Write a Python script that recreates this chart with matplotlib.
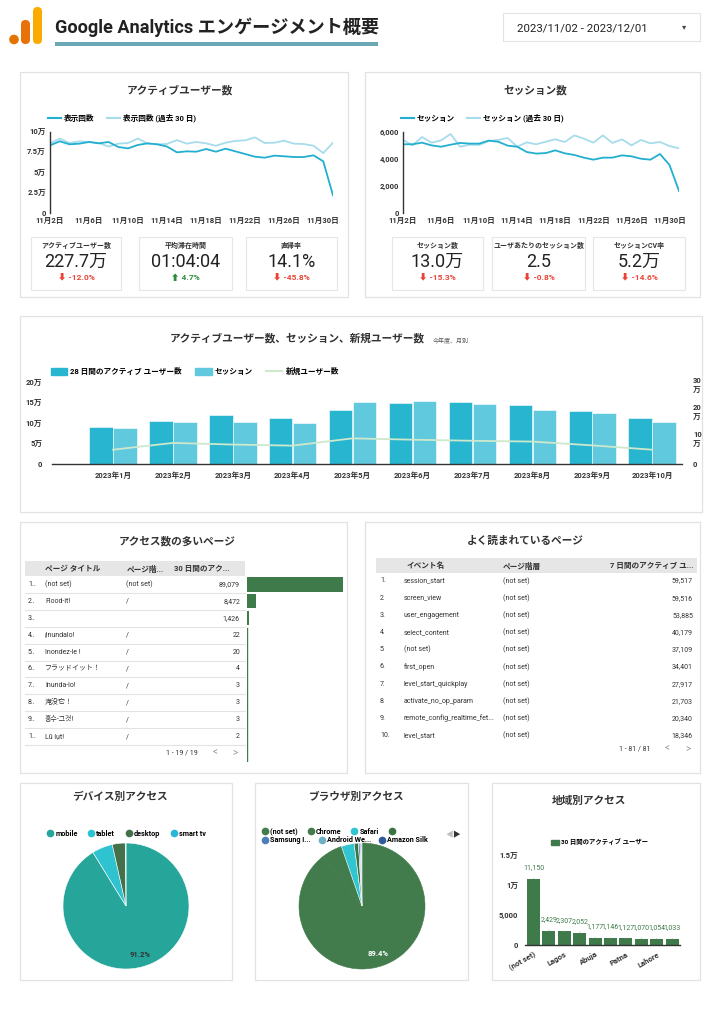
import matplotlib
matplotlib.use('Agg')
import matplotlib.pyplot as plt
from matplotlib.patches import Rectangle, FancyBboxPatch, Patch
from matplotlib.lines import Line2D
import numpy as np

plt.rcParams['font.family'] = ['Roboto', 'Noto Sans CJK JP', 'DejaVu Sans']

# ---------------- data ----------------
day_labels = ['11月2日', '11月3日', '11月4日', '11月5日', '11月6日', '11月7日', '11月8日', '11月9日',
              '11月10日', '11月11日', '11月12日', '11月13日', '11月14日', '11月15日', '11月16日',
              '11月17日', '11月18日', '11月19日', '11月20日', '11月21日', '11月22日', '11月23日',
              '11月24日', '11月25日', '11月26日', '11月27日', '11月28日', '11月29日', '11月30日', '12月1日']
active_cur = [8.35, 8.85, 8.48, 8.56, 8.77, 8.60, 8.77, 8.15, 7.98, 8.40, 8.60, 8.48, 8.20, 7.49, 7.61,
              7.57, 7.90, 7.57, 7.94, 7.61, 7.28, 6.95, 6.83, 7.08, 7.00, 6.91, 6.91, 7.12, 6.38, 2.18]
active_prev = [8.60, 9.18, 8.64, 8.85, 8.77, 8.64, 8.20, 8.56, 8.64, 9.20, 8.56, 8.48, 8.52, 9.00, 8.56,
               8.77, 8.60, 8.30, 8.68, 8.90, 8.97, 9.34, 8.64, 8.68, 8.93, 8.56, 8.52, 8.30, 7.40, 8.68]
sess_cur = [5090, 5090, 5210, 5010, 4910, 5060, 5190, 5140, 5140, 5360, 5280, 4990, 4910, 4520, 4400,
            4440, 4640, 4420, 4300, 4100, 3950, 4100, 4100, 4270, 4200, 4020, 3950, 4370, 3560, 1630]
sess_prev = [5410, 5010, 5630, 5210, 5380, 5850, 4910, 5060, 5040, 5330, 5410, 5560, 4910, 5230, 5090,
             5280, 5460, 5260, 5750, 5510, 5210, 5750, 5190, 5460, 5010, 5410, 5160, 5260, 4960, 4790]

kpi_left_labels = ['アクティブユーザー数', '平均滞在時間', '直帰率']
kpi_left_values = ['227.7万', '01:04:04', '14.1%']
kpi_left_deltas = [-12.0, 4.7, -45.8]
kpi_right_labels = ['セッション数', 'ユーザあたりのセッション数', 'セッションCV率']
kpi_right_values = ['13.0万', '2.5', '5.2万']
kpi_right_deltas = [-15.3, -0.8, -14.6]

months = ['2023年1月', '2023年2月', '2023年3月', '2023年4月', '2023年5月',
          '2023年6月', '2023年7月', '2023年8月', '2023年9月', '2023年10月']
active28_m = [9.05, 10.7, 12.2, 11.4, 13.25, 15.0, 15.2, 14.6, 13.1, 11.3]   # 万
sessions_m = [8.97, 10.3, 10.4, 10.1, 15.2, 15.5, 14.7, 13.4, 12.5, 10.4]    # 万
new_users_m = [5.3, 7.8, 7.2, 6.8, 9.5, 9.0, 8.6, 8.3, 6.9, 5.3]            # 万

page_titles = ['(not set)', 'Flood-it!', '', '¡Inundalo!', 'Inondez-le !', 'フラッドイット！',
               'Inunda-lo!', '淹没它！', '홍수-그것!', 'Lũ lụt!']
page_paths = ['(not set)', '/', '', '/', '/', '/', '/', '/', '/', '/']
page_users = [89079, 8472, 1426, 22, 20, 4, 3, 3, 3, 2]

event_names = ['session_start', 'screen_view', 'user_engagement', 'select_content', '(not set)',
               'first_open', 'level_start_quickplay', 'activate_no_op_param',
               'remote_config_realtime_fet...', 'level_start']
event_paths = ['(not set)'] * 10
event_users = [59517, 59516, 53885, 40179, 37109, 34401, 27917, 21703, 20340, 18346]

device_names = ['mobile', 'tablet', 'desktop', 'smart tv']
device_share = [91.2, 5.3, 3.3, 0.2]
browser_names = ['(not set)', 'Chrome', 'Safari', '', 'Samsung I...', 'Android We...', 'Amazon Silk']
browser_share = [89.4, 5.3, 3.3, 1.1, 0.4, 0.3, 0.2]

geo_labels = ['(not set)', '', 'Lagos', '', 'Abuja', '', 'Patna', '', 'Lahore', '']
geo_users = [11150, 2429, 2307, 2052, 1177, 1146, 1127, 1070, 1054, 1033]

# ---------------- colours ----------------
C_CUR = '#22afd0'
C_PREV = '#a6dcec'
C_BAR1 = '#27b5cf'
C_BAR2 = '#60c9dd'
C_NEW = '#cde8cc'
C_GREEN = '#3f7a4b'
C_TXT = '#333333'
C_RED = '#ea4335'
C_UP = '#2e8b3e'
device_colors = ['#26a69a', '#2fc3d2', '#44704a', '#2ab5d8']
browser_colors = ['#427b4c', '#427b4c', '#31c4d1', '#3a7444', '#4c7fb8', '#6eb1c4', '#2f5b9c']

W, H = 724, 1024
fig = plt.figure(figsize=(W / 100, H / 100), dpi=100)
fig.patch.set_facecolor('white')

bg = fig.add_axes([0, 0, 1, 1])
bg.set_xlim(0, W)
bg.set_ylim(H, 0)
bg.axis('off')


def axpx(x0, y0, x1, y1):
    a = fig.add_axes([x0 / W, 1 - y1 / H, (x1 - x0) / W, (y1 - y0) / H])
    a.set_facecolor('none')
    return a


def panel(x0, y0, x1, y1, ec='#e2e2e2', lw=0.9):
    bg.add_patch(Rectangle((x0, y0), x1 - x0, y1 - y0, fc='white', ec=ec, lw=lw))


def txt(x, y, s, size=6, weight='normal', color=C_TXT, ha='left', va='center', **kw):
    return bg.text(x, y, s, fontsize=size, fontweight=weight, color=color, ha=ha, va=va, **kw)


# ---------------- header ----------------
bg.add_patch(FancyBboxPatch((33, 7), 9, 37, boxstyle='round,pad=0,rounding_size=4.5',
                            fc='#f9ab00', ec='none'))
bg.add_patch(FancyBboxPatch((21, 20), 9, 24, boxstyle='round,pad=0,rounding_size=4.5',
                            fc='#e8710a', ec='none'))
bg.add_patch(plt.Circle((14, 39.5), 4.8, fc='#e37400', ec='none'))
txt(55, 27, 'Google Analytics エンゲージメント概要', size=13.1, weight='bold', color='#222222')
bg.add_patch(Rectangle((55, 42), 323, 4, fc='#6aa6b3', ec='none'))
bg.add_patch(Rectangle((503, 13), 197, 28, fc='white', ec='#e3e3e3', lw=0.8))
txt(517, 28, '2023/11/02 - 2023/12/01', size=8.2, color='#222222')
txt(684, 27, '▾', size=6, color='#444444', ha='center')

# ---------------- panels ----------------
panel(20, 72, 348, 297)
panel(365, 72, 700, 297)
panel(20, 316, 702, 512)
panel(20, 522, 347, 773)
panel(365, 522, 700, 773)
panel(20, 783, 232, 980)
panel(255, 783, 468, 980)
panel(492, 783, 700, 980)

txt(180, 90, 'アクティブユーザー数', size=7.7, weight='bold', ha='center')
txt(535, 90, 'セッション数', size=7.7, weight='bold', ha='center')
txt(297, 338, 'アクティブユーザー数、セッション、新規ユーザー数', size=7.7, weight='bold', ha='center')
txt(433, 341, '今年度、月別', size=4.3, color='#555555')
txt(177, 541, 'アクセス数の多いページ', size=7.7, weight='bold', ha='center')
txt(525, 541, 'よく読まれているページ', size=7.7, weight='bold', ha='center')
txt(120, 797, 'デバイス別アクセス', size=7.7, weight='bold', ha='center')
txt(357, 797, 'ブラウザ別アクセス', size=7.7, weight='bold', ha='center')
txt(589, 801, '地域別アクセス', size=7.7, weight='bold', ha='center')


# ---------------- line charts ----------------
def style_line_ax(ax, yticks, ylabels):
    for s in ['top', 'right', 'bottom']:
        ax.spines[s].set_visible(False)
    ax.spines['left'].set_color(C_TXT)
    ax.spines['left'].set_linewidth(1.0)
    ax.set_yticks(yticks)
    ax.set_yticklabels(ylabels)
    ax.set_xticks(range(0, 30, 4))
    ax.set_xticklabels([day_labels[i] for i in range(0, 30, 4)])
    ax.tick_params(length=0, labelsize=5.5, labelcolor=C_TXT, pad=3)
    for lab in ax.get_xticklabels() + ax.get_yticklabels():
        lab.set_fontweight('bold')


ax1 = axpx(50, 132, 333, 213)
x = np.arange(len(active_cur))
ax1.plot(x, active_prev, color=C_PREV, lw=1.3)
ax1.plot(x, active_cur, color=C_CUR, lw=1.3)
ax1.set_xlim(0, len(x) - 1)
ax1.set_ylim(0, 10)
style_line_ax(ax1, [0, 2.5, 5, 7.5, 10], ['0', '2.5万', '5万', '7.5万', '10万'])
ax1.legend([Line2D([], [], color=C_CUR, lw=1.5), Line2D([], [], color=C_PREV, lw=1.5)],
           ['表示回数', '表示回数 (過去 30 日)'], loc='center left', bbox_to_anchor=(48, 118),
           bbox_transform=bg.transData, ncol=2, frameon=False, borderpad=0, borderaxespad=0,
           handlelength=1.7, handletextpad=0.4, columnspacing=1.6,
           prop={'size': 5.5, 'weight': 'bold'})

ax2 = axpx(403, 132, 679, 213)
ax2.plot(x, sess_prev, color=C_PREV, lw=1.3)
ax2.plot(x, sess_cur, color=C_CUR, lw=1.3)
ax2.set_xlim(0, len(x) - 1)
ax2.set_ylim(0, 6000)
style_line_ax(ax2, [0, 2000, 4000, 6000], ['0', '2,000', '4,000', '6,000'])
ax2.legend([Line2D([], [], color=C_CUR, lw=1.5), Line2D([], [], color=C_PREV, lw=1.5)],
           ['セッション', 'セッション (過去 30 日)'], loc='center left', bbox_to_anchor=(401, 118),
           bbox_transform=bg.transData, ncol=2, frameon=False, borderpad=0, borderaxespad=0,
           handlelength=1.7, handletextpad=0.4, columnspacing=1.6,
           prop={'size': 5.5, 'weight': 'bold'})


# ---------------- KPI cards ----------------
def kpi(x0, x1, label, value, delta):
    bg.add_patch(Rectangle((x0, 237), x1 - x0, 53, fc='white', ec='#e6e6e6', lw=0.8))
    cx = (x0 + x1) / 2
    txt(cx, 246, label, size=5, weight='bold', ha='center')
    txt(cx, 262, value, size=13, color='#222222', ha='center')
    if delta < 0:
        txt(cx, 277, f'⬇ {delta:.1f}%', size=6, weight='bold', color=C_RED, ha='center')
    else:
        txt(cx, 277, f'⬆ {delta:.1f}%', size=6, weight='bold', color=C_UP, ha='center')


for (x0, x1), lab, val, d in zip([(31, 121), (139, 232), (246, 337)],
                                 kpi_left_labels, kpi_left_values, kpi_left_deltas):
    kpi(x0, x1, lab, val, d)
for (x0, x1), lab, val, d in zip([(392, 483), (492, 585), (593, 685)],
                                 kpi_right_labels, kpi_right_values, kpi_right_deltas):
    kpi(x0, x1, lab, val, d)

# ---------------- combo chart ----------------
axc = axpx(52, 383, 682, 464)
xm = np.arange(len(months))
axc.bar(xm - 0.2, active28_m, 0.39, color=C_BAR1, edgecolor='white', lw=0.4)
axc.bar(xm + 0.2, sessions_m, 0.39, color=C_BAR2, edgecolor='white', lw=0.4)
axc.set_xlim(-1.02, 9.5)
axc.set_ylim(0, 20)
axc.set_yticks([0, 5, 10, 15, 20])
axc.set_yticklabels(['0', '5万', '10万', '15万', '20万'])
axc.set_xticks(xm)
axc.set_xticklabels(months)
for s in ['top', 'right', 'left']:
    axc.spines[s].set_visible(False)
axc.spines['bottom'].set_color(C_TXT)
axc.spines['bottom'].set_linewidth(1.0)
axc.tick_params(length=0, labelsize=5.5, labelcolor=C_TXT)
axc.tick_params(axis='y', pad=7)
axc.tick_params(axis='x', pad=5)
axr = axc.twinx()
axr.set_facecolor('none')
axr.plot(xm, new_users_m, color=C_NEW, lw=1.3)
axr.set_ylim(0, 30)
axr.set_yticks([0, 10, 20, 30])
axr.set_yticklabels(['0', '10\n万', '20\n万', '30\n万'], linespacing=1.5)
for s in ['top', 'right', 'left', 'bottom']:
    axr.spines[s].set_visible(False)
axr.tick_params(length=0, labelsize=5.5, labelcolor=C_TXT, pad=8)
for lab in (axc.get_xticklabels() + axc.get_yticklabels() + axr.get_yticklabels()):
    lab.set_fontweight('bold')
axc.legend([Patch(color=C_BAR1), Patch(color=C_BAR2), Line2D([], [], color=C_NEW, lw=1.5)],
           ['28 日間のアクティブ ユーザー数', 'セッション', '新規ユーザー数'],
           loc='center left', bbox_to_anchor=(51, 371), bbox_transform=bg.transData, ncol=3,
           frameon=False, borderpad=0, borderaxespad=0, handlelength=2.1, handleheight=1.0,
           handletextpad=0.4, columnspacing=1.8, prop={'size': 5.5, 'weight': 'bold'})

# ---------------- top pages table ----------------
bg.add_patch(Rectangle((25, 561), 220, 15, fc='#e6e6e6', ec='none'))
txt(45, 568.5, 'ページ タイトル', size=5.5, weight='bold')
txt(127, 568.5, 'ページ階...', size=5.5, weight='bold')
txt(174, 568.5, '30 日間のアク...', size=5.5, weight='bold')
row_h = 16.93
for i in range(len(page_titles)):
    y = 584.3 + row_h * i
    txt(28, y, f'{i + 1}'[0] + '..', size=5)
    txt(45, y, page_titles[i], size=5)
    txt(126, y, page_paths[i], size=5)
    txt(240, y, f'{page_users[i]:,}', size=5, ha='right')
    bg.plot([25, 245], [y + 8.5, y + 8.5], color='#e3e3e3', lw=0.8)
txt(182, 753, '1 - 19 / 19', size=5, ha='center')
txt(215, 752, '<', size=7, color='#9a9a9a', ha='center')
txt(235, 752, '>', size=7, color='#9a9a9a', ha='center')

axb = axpx(247, 575.8, 343, 575.8 + row_h * 11)
axb.barh(np.arange(len(page_users)), page_users, height=0.86, color=C_GREEN)
axb.plot([0, 0], [2.6, 10.6], color=C_GREEN, lw=1.0)
axb.set_xlim(0, max(page_users))
axb.set_ylim(10.5, -0.5)
axb.axis('off')

# ---------------- events table ----------------
bg.add_patch(Rectangle((376, 558), 321, 15, fc='#e6e6e6', ec='none'))
txt(407, 565.5, 'イベント名', size=5.5, weight='bold')
txt(503, 565.5, 'ページ階層', size=5.5, weight='bold')
txt(693, 565.5, '7 日間のアクティブ ユ...', size=5.5, weight='bold', ha='right')
for i in range(len(event_names)):
    y = 581 + 17.2 * i
    txt(380, y, f'{i + 1}.', size=5)
    txt(404, y, event_names[i], size=5)
    txt(503, y, event_paths[i], size=5)
    txt(693, y, f'{event_users[i]:,}', size=5, ha='right')
txt(635, 749, '1 - 81 / 81', size=5, ha='center')
txt(667, 748, '<', size=7, color='#9a9a9a', ha='center')
txt(688, 748, '>', size=7, color='#9a9a9a', ha='center')


# ---------------- pies ----------------
def pie(ax, vals, colors, pct_color):
    wedges, texts, autos = ax.pie(vals, colors=colors, startangle=90, counterclock=False,
                                  wedgeprops=dict(edgecolor='white', linewidth=0.4),
                                  autopct=lambda p: f'{p:.1f}%' if p > 50 else '',
                                  pctdistance=0.8,
                                  textprops=dict(fontsize=5.5, fontweight='bold', color=pct_color))
    ax.set_aspect('equal')
    ax.set_xlim(-1, 1)
    ax.set_ylim(-1, 1)
    return wedges


axp1 = axpx(63, 843, 189, 969)
pie(axp1, device_share, device_colors, C_TXT)
axp1.legend([Line2D([], [], ls='none', marker='o', ms=4.5, color=c) for c in device_colors],
            device_names, loc='center left', bbox_to_anchor=(48, 834), bbox_transform=bg.transData,
            ncol=4, frameon=False, borderpad=0, borderaxespad=0, handlelength=0.6,
            handletextpad=0.4, columnspacing=1.6, prop={'size': 5.2, 'weight': 'bold'})

axp2 = axpx(299, 843, 425, 969)
bw = pie(axp2, browser_share, browser_colors, 'white')
bw[0].set_edgecolor(browser_colors[0])
bw[1].set_edgecolor(browser_colors[1])
leg1 = axp2.legend([Line2D([], [], ls='none', marker='o', ms=4.5, color=c) for c in browser_colors[:4]],
                   browser_names[:4], loc='center left', bbox_to_anchor=(263, 832),
                   bbox_transform=bg.transData, ncol=4, frameon=False, borderpad=0, borderaxespad=0,
                   handlelength=0.6, handletextpad=0.4, columnspacing=1.5,
                   prop={'size': 5.2, 'weight': 'bold'})
axp2.add_artist(leg1)
axp2.legend([Line2D([], [], ls='none', marker='o', ms=4.5, color=c) for c in browser_colors[4:]],
            browser_names[4:], loc='center left', bbox_to_anchor=(263, 840.5),
            bbox_transform=bg.transData, ncol=3, frameon=False, borderpad=0, borderaxespad=0,
            handlelength=0.6, handletextpad=0.4, columnspacing=1.2,
            prop={'size': 5.2, 'weight': 'bold'})
txt(449, 835, '◀', size=5.5, color='#c0c0c0', ha='center')
txt(456, 835, '▶', size=5.5, color='#333333', ha='center')

# ---------------- geo bars ----------------
axg = axpx(525, 856, 680, 945)
xg = np.arange(len(geo_users))
axg.bar(xg, geo_users, 0.85, color=C_GREEN)
axg.set_xlim(-0.55, 9.51)
axg.set_ylim(0, 15000)
axg.set_yticks([0, 5000, 10000, 15000])
axg.set_yticklabels(['0', '5,000', '1万', '1.5万'])
axg.set_xticks(xg)
axg.set_xticklabels(geo_labels, rotation=30, ha='right', rotation_mode='anchor')
for s in ['top', 'right', 'left']:
    axg.spines[s].set_visible(False)
axg.spines['bottom'].set_color(C_TXT)
axg.spines['bottom'].set_linewidth(1.0)
axg.tick_params(length=0, labelsize=5.5, labelcolor=C_TXT)
axg.tick_params(axis='y', pad=5)
axg.tick_params(axis='x', pad=4)
for lab in axg.get_xticklabels() + axg.get_yticklabels():
    lab.set_fontweight('bold')
for i, v in enumerate(geo_users):
    axg.annotate(f'{v:,}', xy=(i, v), xytext=(0, 8), textcoords='offset points',
                 ha='center', va='center', fontsize=5, color=C_GREEN,
                 arrowprops=dict(arrowstyle='-', color='#bbbbbb', lw=0.6, shrinkA=3, shrinkB=0))
axg.legend([Patch(color=C_GREEN)], ['30 日間のアクティブ ユーザー'], loc='center left',
           bbox_to_anchor=(551, 842), bbox_transform=bg.transData, frameon=False, borderpad=0,
           borderaxespad=0, handlelength=1.2, handleheight=0.9, handletextpad=0.4,
           prop={'size': 4.6, 'weight': 'bold'})

fig.savefig('out.png', dpi=100, facecolor='white')
